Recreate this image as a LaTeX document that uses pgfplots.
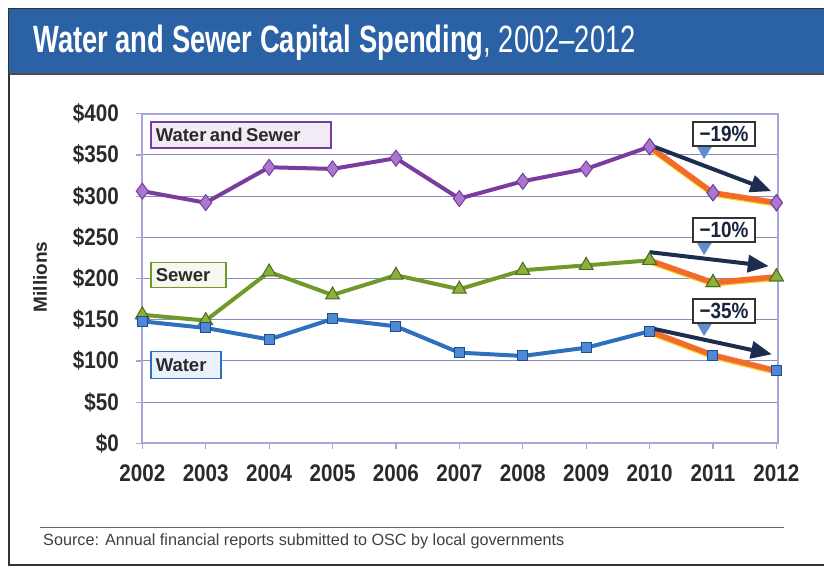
\documentclass[border=0pt]{standalone}
\usepackage{fontspec}
\setmainfont{Liberation Sans}
\newfontfamily\condfont[FakeStretch=0.86]{Liberation Sans}
\newfontfamily\titlefont[FakeStretch=0.72]{Liberation Sans}
\usepackage{pgfplots}
\pgfplotsset{compat=1.18}
\usetikzlibrary{arrows.meta}

\definecolor{bannerblue}{HTML}{2B62A6}
\definecolor{framec}{HTML}{A8A8D8}
\definecolor{gridc}{HTML}{8C8CB6}
\definecolor{wsline}{HTML}{7A3C9E}
\definecolor{wsfill}{HTML}{A878D0}
\definecolor{swline}{HTML}{6F9A2A}
\definecolor{swfill}{HTML}{8CB03C}
\definecolor{wtline}{HTML}{2E6FC0}
\definecolor{wtfill}{HTML}{5088D8}
\definecolor{orng}{HTML}{F26B2A}
\definecolor{yelw}{HTML}{F5D020}
\definecolor{navy}{HTML}{1D2D4F}
\definecolor{ptr}{HTML}{5B8DD0}
\definecolor{txt}{HTML}{2A2A2A}

\begin{document}
\begin{tikzpicture}[x=1pt,y=1pt]
\useasboundingbox (0,0) rectangle (824,-570);
\fill[white] (0,0) rectangle (824,-570);
% outer frame and banner
\draw[line width=2pt, black!80] (9,-9) rectangle (834,-565);
\fill[bannerblue] (9,-9) rectangle (824,-73);
\draw[line width=1.5pt, black!70] (9,-74) -- (824,-74);
\node[anchor=west, text=white, inner sep=0pt] at (33,-43)
  {\titlefont\fontsize{38}{38}\selectfont\bfseries Water and Sewer Capital Spending\mdseries, 2002–2012};

% y label
\node[rotate=90, text=txt] at (40,-277) {\fontsize{19}{19}\selectfont\bfseries Millions};

% source
\draw[line width=0.8pt, black!60] (40,-527) -- (784,-527);
\node[anchor=west, text=black!75, inner sep=0pt] at (43,-541)
  {\fontsize{16.2}{16.2}\selectfont Source: Annual financial reports submitted to OSC by local governments};

\begin{axis}[
  at={(142.3pt,-443.3pt)}, anchor=south west,
  scale only axis, width=636pt, height=329.6pt,
  xmin=2002, xmax=2012.03, ymin=0, ymax=400,
  axis line style={framec, line width=2pt},
  xtick={2002,2003,2004,2005,2006,2007,2008,2009,2010,2011,2012},
  xticklabels={2002,2003,2004,2005,2006,2007,2008,2009,2010,2011,2012},
  ytick={0,50,100,150,200,250,300,350,400},
  yticklabels={\$0,\$50,\$100,\$150,\$200,\$250,\$300,\$350,\$400},
  tick align=outside, major tick length=6pt,
  tick style={framec, line width=1.2pt},
  xtick pos=bottom, ytick pos=left,
  ymajorgrids, grid style={gridc, line width=1pt},
  tick label style={font=\condfont\bfseries\fontsize{24}{24}\selectfont, text=txt},
  yticklabel style={xshift=-14pt},
  xticklabel style={yshift=-12pt},
  clip=false,
]
% Water and Sewer
\addplot[wsline, line width=4pt, mark=diamond*, mark size=8pt,
  mark options={fill=wsfill, draw=wsline, line width=1pt}] coordinates {
  (2002,306) (2003,292) (2004,335) (2005,333) (2006,346) (2007,297)
  (2008,318) (2009,333) (2010,360) (2011,304) (2012,292)};
% Sewer
\addplot[swline, line width=4pt, mark=triangle*, mark size=8pt,
  mark options={fill=swfill, draw=swline!70!black, line width=1pt}] coordinates {
  (2002,156) (2003,149) (2004,208) (2005,180) (2006,204) (2007,187)
  (2008,210) (2009,216) (2010,222) (2011,195) (2012,202)};
% Water
\addplot[wtline, line width=4pt, mark=square*, mark size=5pt,
  mark options={fill=wtfill, draw=wtline!70!black, line width=1pt}] coordinates {
  (2002,148) (2003,140) (2004,126) (2005,151) (2006,142) (2007,110)
  (2008,106) (2009,116) (2010,136) (2011,107) (2012,88)};

% orange overlays 2010-2012
\addplot[yelw, line width=5.5pt, yshift=-1.3pt] coordinates {(2010,360) (2011,304) (2012,292)};
\addplot[orng, line width=5.5pt] coordinates {(2010,360) (2011,304) (2012,292)};
\addplot[yelw, line width=5.5pt, yshift=-1.3pt] coordinates {(2010,222) (2011,195) (2012,202)};
\addplot[orng, line width=5.5pt] coordinates {(2010,222) (2011,195) (2012,202)};
\addplot[yelw, line width=5.5pt, yshift=-1.3pt] coordinates {(2010,136) (2011,107) (2012,88)};
\addplot[orng, line width=5.5pt] coordinates {(2010,136) (2011,107) (2012,88)};

% markers again on top
\addplot[only marks, mark=diamond*, mark size=8pt,
  mark options={fill=wsfill, draw=wsline, line width=1pt}] coordinates {
  (2010,360) (2011,304) (2012,292)};
\addplot[only marks, mark=triangle*, mark size=8pt,
  mark options={fill=swfill, draw=swline!70!black, line width=1pt}] coordinates {
  (2010,222) (2011,195) (2012,202)};
\addplot[only marks, mark=square*, mark size=5pt,
  mark options={fill=wtfill, draw=wtline!70!black, line width=1pt}] coordinates {
  (2010,136) (2011,107) (2012,88)};

% trend arrows
\draw[navy, line width=4pt, -{Triangle[length=21pt,width=17pt]}]
  (axis cs:2010,362) -- (axis cs:2011.92,306);
\draw[navy, line width=4pt, -{Triangle[length=21pt,width=17pt]}]
  (axis cs:2010,232) -- (axis cs:2011.88,215);
\draw[navy, line width=4pt, -{Triangle[length=21pt,width=17pt]}]
  (axis cs:2010,140) -- (axis cs:2011.93,108);
\end{axis}

% series labels
\node[draw=wsline, line width=1.5pt, fill=wsline!10, text=txt, anchor=west,
  minimum height=26pt, inner xsep=5pt, inner ysep=0pt,
  text width=170pt, align=left] at (150,-135)
  {\fontsize{18.5}{18.5}\selectfont\bfseries Water and Sewer};
\node[draw=swline, line width=1.5pt, fill=yellow!8!swline!8, text=txt, anchor=west,
  minimum height=25pt, inner xsep=5pt, inner ysep=0pt,
  text width=65pt, align=left] at (150,-275)
  {\fontsize{18.5}{18.5}\selectfont\bfseries Sewer};
\node[draw=wtline, line width=1.5pt, fill=wtline!10, text=txt, anchor=west,
  minimum height=27pt, inner xsep=5pt, inner ysep=0pt,
  text width=60pt, align=left] at (150,-365)
  {\fontsize{18.5}{18.5}\selectfont\bfseries Water};

% callouts
\foreach \yt/\lab in {122/19, 218/10, 299/35}{
  \fill[ptr] (696,-\yt-23) -- (713,-\yt-23) -- (704,-\yt-37) -- cycle;
  \node[draw=black!80, line width=1.2pt, fill=white, text=navy!80!black, minimum width=62pt,
    minimum height=24pt, inner sep=0pt] at (724,-\yt-12)
    {\condfont\fontsize{22}{22}\selectfont\bfseries −\lab\%};
}
\end{tikzpicture}
\end{document}
